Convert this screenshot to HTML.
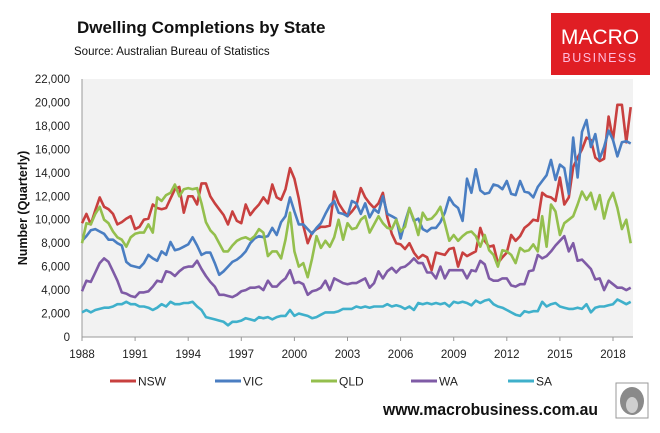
<!DOCTYPE html>
<html><head><meta charset="utf-8"><style>
html,body{margin:0;padding:0;background:#fff;}
svg{display:block;font-family:"Liberation Sans",sans-serif;}
</style></head><body>
<svg id="chart" width="660" height="433" viewBox="0 0 660 433">
<text x="77" y="33" font-size="17" font-weight="bold" fill="#111">Dwelling Completions by State</text>
<text x="74" y="55" font-size="11.5" fill="#111">Source:   Australian Bureau of Statistics</text>
<g>
<rect x="551" y="13" width="99" height="62" fill="#e01e24"/>
<text x="600" y="44" font-size="21" fill="#fff" text-anchor="middle">MACRO</text>
<text x="600" y="62" font-size="12.5" fill="#fbd" text-anchor="middle" letter-spacing="1.5">BUSINESS</text>
</g>
<rect x="82" y="79" width="551" height="258" fill="#f2f2f2"/>
<g id="axes"></g>
<g id="series"></g>
<text transform="translate(27,208) rotate(-90)" font-size="12.5" font-weight="bold" text-anchor="middle" fill="#111">Number (Quarterly)</text>
<g id="legend"></g>
<text x="383" y="415" font-size="17" font-weight="bold" fill="#111" textLength="215" lengthAdjust="spacingAndGlyphs">www.macrobusiness.com.au</text>
<g>
<rect x="616" y="383" width="32" height="35" fill="#fff" stroke="#999" stroke-width="1"/>
<ellipse cx="632" cy="401" rx="12" ry="14" fill="#8a8a8a"/>
<ellipse cx="632" cy="405" rx="6" ry="8" fill="#cfcfcf"/>
</g>
</svg>
<script>
const startYear = 1988;
const yTicks = [0,2000,4000,6000,8000,10000,12000,14000,16000,18000,20000,22000];
const xTickYears = [1988,1991,1994,1997,2000,2003,2006,2009,2012,2015,2018];
const seriesNames = ["NSW","VIC","QLD","WA","SA"];
const seriesColors = ["#c8403f","#4a7ec2","#94bf4d","#7f5ba6","#3fb0cb"];
const nsw = [9700,10500,9600,10800,11900,11100,10900,10500,9600,9800,10100,10300,9200,9400,10000,10100,11300,11000,10900,11000,11800,12600,12800,10600,12000,12000,11300,13100,13100,12000,11400,10900,10400,9600,10700,9900,9700,11300,10400,10900,11300,11900,11400,13000,11900,11700,12600,14400,13500,11800,9500,8000,8900,9200,9400,9400,9500,12400,11400,10800,10300,10700,11200,12700,11900,11400,11000,11400,12300,10200,8800,8000,7900,7500,8000,7200,6700,7000,6800,5700,7200,7100,7000,7500,7600,6000,7200,6900,7100,7300,9300,8200,7700,7800,6300,6800,7200,8700,8200,8600,9300,9600,10000,9900,12300,12000,11900,11600,13600,11300,11900,14500,15300,16000,17000,16800,15300,15000,15200,18800,16800,19800,19800,16600,19600];
const vic = [8200,8600,9100,9200,9000,8800,8300,8300,8000,7800,6400,6100,6000,5900,6300,7000,6700,6500,7300,7000,8100,7400,7500,7700,7900,8500,7800,7000,7200,7200,6300,5300,5600,6000,6400,6600,6900,7300,8000,8400,8600,8500,8600,9300,8700,9800,10300,11900,10700,9600,9600,9200,8800,9300,9700,10500,11200,11600,10600,10500,10300,11600,11400,10500,11400,10200,10900,10600,12000,10500,10300,10100,8400,9800,11000,9900,10100,9200,9000,9300,9300,9800,10600,11900,11300,11000,9900,13500,12300,14300,12500,12200,12300,13000,12900,12600,13300,12200,12100,13300,12400,12300,11900,12800,13300,13800,15100,13400,14700,14400,12200,17000,13600,17500,18500,16200,17300,15200,16200,17600,16800,15400,16600,16700,16500];
const qld = [8000,9700,9600,10500,11100,10000,9700,9000,8500,8300,7700,8500,8800,8900,8900,9600,8900,11900,11600,12100,12300,13000,12000,12600,12700,12600,12700,11400,9800,9100,8700,8000,7300,7300,7800,8200,8400,8500,8300,8600,9200,8900,6900,7300,7300,6700,8300,10600,7300,6000,6300,5100,6700,8600,7600,8200,7700,8500,10000,8300,9700,9200,9300,10000,10300,8900,9600,10300,9700,9300,9200,10000,9000,9400,11000,10000,8700,10600,10000,10100,10500,11100,9700,8200,8700,8200,8600,8900,9000,8600,7700,8700,7400,7000,6000,7400,7300,7000,6300,7600,7300,7400,7900,7300,10300,7700,11300,10700,8700,9700,10000,10300,11300,12400,11700,12300,10900,12100,10100,11600,12300,11000,9200,10000,8000];
const wa = [3900,4800,4700,5500,6300,6700,6400,5600,4800,3800,3700,3500,3400,3800,3800,3900,4300,4800,4700,5600,5500,5200,5600,5900,6000,6000,6500,5800,5200,4700,4300,3600,3600,3500,3400,3600,3900,4000,4200,4200,4300,4000,4800,4300,4300,4700,5000,5700,4600,4700,4500,3600,3900,4000,4200,4800,4000,5000,4800,4600,4500,4600,4600,4800,5000,4200,4600,5600,5000,5600,5900,5500,5900,6000,6300,6700,6300,6300,5500,5500,5000,6000,5000,5700,5700,5700,5700,5000,5700,5600,6500,6200,5000,4800,4800,5000,5000,4400,4300,4500,4500,5600,5700,7000,6700,6900,7300,7800,8200,8600,7300,8000,6500,6600,6200,5800,4900,5000,4000,4800,4500,4200,4200,4000,4200];
const sa = [2100,2300,2100,2300,2400,2500,2500,2600,2800,2800,3000,2800,2800,2600,2600,2500,2300,2500,2800,2600,3000,2800,2800,2900,2900,3000,2600,2300,1700,1600,1500,1400,1300,1000,1300,1300,1400,1600,1500,1400,1700,1600,1700,1500,1700,1800,1800,2300,1800,2000,1900,1800,1600,1700,1900,2100,2100,2100,2200,2400,2400,2400,2600,2500,2600,2500,2600,2600,2600,2800,2600,2700,2600,2400,2600,2300,2900,2800,2900,2800,2900,2800,2900,2600,3000,2900,3000,2900,2700,3100,2900,3100,3200,2800,2600,2500,2300,2100,1900,1800,2200,2100,2200,2200,3000,2600,2800,2900,2600,2500,2400,2400,2500,2400,2800,2100,2500,2600,2600,2700,2800,3200,3000,2800,3000];

const NS = "http://www.w3.org/2000/svg";
const X0 = 82, X1 = 633, PXPERYEAR = 17.7, Y0 = 337, Y1 = 79, YMAX = 22000;
function xYear(yr){ return X0 + (yr - startYear) * PXPERYEAR; }
function xIdx(i){ return xYear(startYear + i / 4); }
function yVal(v){ return Y0 - (v / YMAX) * (Y0 - Y1); }
function mk(tag, attrs, parent){ const e = document.createElementNS(NS, tag); for (const k in attrs) e.setAttribute(k, attrs[k]); parent.appendChild(e); return e; }

const axes = document.getElementById('axes');
yTicks.forEach(v => {
  const t = mk('text', {x: 70, y: yVal(v) + 4, 'font-size': 11.5, 'text-anchor': 'end', fill: '#222'}, axes);
  t.textContent = v.toLocaleString('en-US');
  
  
});
const yl = mk('line', {x1: X0, y1: Y1, x2: X0, y2: Y0, stroke: '#999', 'stroke-width': 1}, axes);


const xl = mk('line', {x1: X0, y1: Y0, x2: X1, y2: Y0, stroke: '#999', 'stroke-width': 1}, axes);


xTickYears.forEach(yr => {
  const x = xYear(yr);
  const tk = mk('line', {x1: x, y1: Y0, x2: x, y2: Y0 + 4, stroke: '#999'}, axes);
  
  
  const t = mk('text', {x: x, y: Y0 + 21, 'font-size': 11.5, 'text-anchor': 'middle', fill: '#222'}, axes);
  t.textContent = yr;
  
  
});

const allSeries = [nsw, vic, qld, wa, sa];
const sg = document.getElementById('series');
allSeries.forEach((data, s) => {
  const d = data.map((v, i) => (i ? 'L' : 'M') + xIdx(i).toFixed(1) + ' ' + yVal(v).toFixed(1)).join(' ');
  const p = mk('path', {d: d, fill: 'none', stroke: seriesColors[s], 'stroke-width': 2.6, 'stroke-linejoin': 'round'}, sg);
  
  
});

const lg = document.getElementById('legend');
const legendX = [110, 215, 311, 411, 508];
seriesNames.forEach((n, s) => {
  const g = mk('g', {}, lg);
  
  
  mk('line', {x1: legendX[s], y1: 381, x2: legendX[s] + 26, y2: 381, stroke: seriesColors[s], 'stroke-width': 3}, g);
  const t = mk('text', {x: legendX[s] + 28, y: 385.5, 'font-size': 12, fill: '#222'}, g);
  t.textContent = n;
});
</script>
</body></html>
